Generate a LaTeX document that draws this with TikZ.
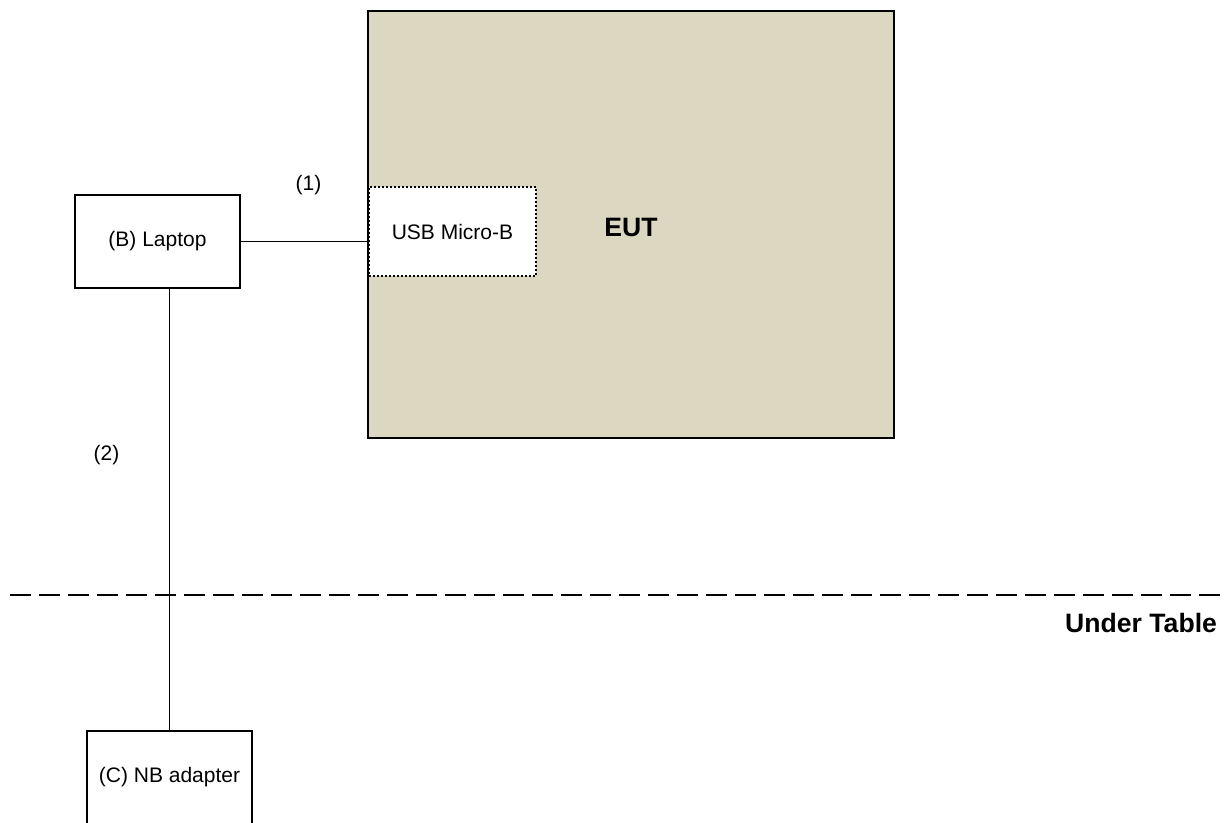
\documentclass[tikz,border=0pt]{standalone}
\usepackage{fontspec}
\setmainfont{Liberation Sans}
\definecolor{euttan}{HTML}{DCD7C0}
\begin{document}
\begin{tikzpicture}[x=0.5pt, y=-0.5pt,
    box/.style={draw, line width=1.4pt, fill=white, inner sep=0pt, font=\fontsize{10.5}{12}\selectfont},
    port/.style={draw, line width=1pt, dash pattern=on 1pt off 1pt, fill=white, inner sep=0pt, font=\fontsize{10.5}{12}\selectfont},
    cable/.style={line width=0.75pt},
    tag/.style={font=\fontsize{10.5}{12}\selectfont},
    bold/.style={font=\fontsize{13.3}{15}\selectfont\bfseries}]
\useasboundingbox (0,0) rectangle (1228,823);

% EUT
\node[draw, line width=1.4pt, fill=euttan, minimum width=263pt, minimum height=213.5pt] (eut) at (631,224.5) {};
\node[bold] (euttext) at (631,227) {EUT};
\node[port, minimum width=83.5pt, minimum height=44.5pt] (usb) at (452.5,231.5) {USB Micro-B};

% Support units
\node[box, minimum width=82.5pt, minimum height=46.5pt] (laptop) at (157.5,241.5) {(B) Laptop};
\node[box, minimum width=82.5pt, minimum height=46.5pt] (adapter) at (169.5,777.5) {(C) NB adapter};

% Cables
\draw[cable] (laptop.east) -- (laptop.east -| usb.west);
\draw[cable] (adapter.north) -- (adapter.north |- laptop.south);
\node[tag] (c1) at (308.5,185) {(1)};
\node[tag] (c2) at (106.5,455) {(2)};

% Table edge
\coordinate (tl) at (10,595);
\coordinate (tr) at (1228,595);
\draw[line width=1.1pt, dash pattern=on 10.5pt off 4pt] (tl) -- (tr);
\node[bold, anchor=east] (under) at (1224,623) {Under Table};

\end{tikzpicture}
\end{document}
